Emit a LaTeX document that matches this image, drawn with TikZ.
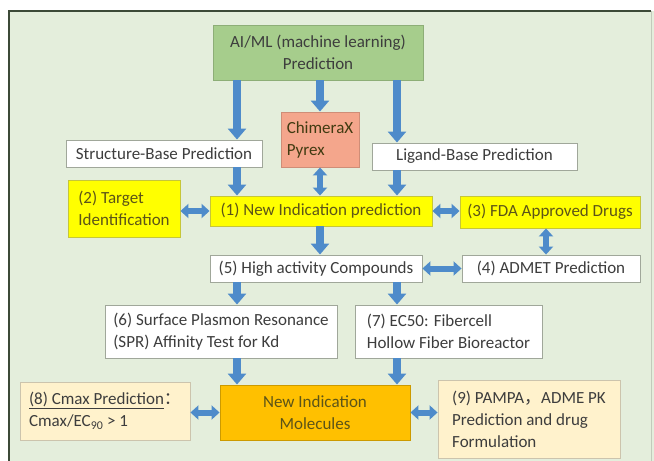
\documentclass[tikz,border=0pt]{standalone}
\usepackage{fontspec}
\setmainfont{Carlito}
\newfontfamily\cjk{Noto Sans CJK SC}
\usepackage{tikz}
\usetikzlibrary{arrows.meta,positioning}
\definecolor{bgcol}{HTML}{E4EEDC}
\definecolor{framecol}{HTML}{3C4A38}
\definecolor{aigreen}{HTML}{A6CD8C}
\definecolor{salmon}{HTML}{F4A68C}
\definecolor{boxyellow}{HTML}{FFFF00}
\definecolor{boxorange}{HTML}{FFC000}
\definecolor{boxcream}{HTML}{FFF2CC}
\definecolor{arrowblue}{HTML}{4E8BCA}
\definecolor{txtgrey}{HTML}{3D3D3D}
\definecolor{txtolive}{HTML}{5C5418}
\tikzset{%
  flow/.style = {draw=arrowblue, line width=8pt, -{Triangle[width=18pt,length=11pt]}},
  flowboth/.style = {draw=arrowblue, line width=6pt,
                     {Triangle[width=14pt,length=8pt]}-{Triangle[width=14pt,length=8pt]}},
            base/.style = {rectangle, draw, line width=0.9pt, inner sep=0pt,
                           text=txtgrey, align=left,
                           font=\fontsize{17}{22}\selectfont},
  box0/.style = {base, fill=white, draw=black!30!bgcol},
  box1/.style = {base, fill=aigreen, draw=aigreen!85!black, align=center},
  box2/.style = {base, fill=salmon, draw=salmon!85!black, text=txtolive!70!black},
  box3/.style = {base, fill=boxyellow, draw=boxyellow!55!gray, text=txtolive},
  box4/.style = {base, fill=boxorange, draw=boxorange!80!black, text=txtolive, align=center},
  box5/.style = {base, fill=boxcream, draw=boxcream!60!gray},
}

\begin{document}
\begin{tikzpicture}[x=1pt, y=1pt, node distance=60pt]

  \useasboundingbox (0,0) rectangle (654,-461);
  \fill[bgcol] (9,-11) rectangle (654,-461);
  \draw[framecol, line width=2pt] (9,-461) -- (9,-11) -- (651,-11);
  \draw[black!15!bgcol, line width=1pt] (651,-11) -- (651,-461);

  \node (onAI)    [box1, minimum width=210pt, minimum height=55pt] at (318,-52.5)
                  {AI/ML (machine learning)\\Prediction};
  \node (onChim)  [box2, below of=onAI,    xshift=2pt,     yshift=-27pt,
                   minimum width=78pt,  minimum height=55pt]  {ChimeraX\\Pyrex};
  \node (onSBP)   [box0, left of=onChim,   xshift=-96pt,   yshift=-14pt,
                   minimum width=196pt, minimum height=27pt]  {Structure-Base Prediction};
  \node (onLBP)   [box0, right of=onChim,  xshift=94.5pt,  yshift=-17pt,
                   minimum width=205pt, minimum height=27pt]  {Ligand-Base Prediction};
  \node (onNIP)   [box3, below of=onChim,  xshift=1pt,     yshift=-11.5pt,
                   minimum width=222pt, minimum height=30pt]  {(1) New Indication prediction};
  \node (onTgt)   [box3, left of=onNIP,    xshift=-137pt,  yshift=2.5pt,
                   minimum width=112pt, minimum height=57pt]  {(2) Target\\Identification};
  \node (onFDA)   [box3, right of=onNIP,   xshift=169pt,   yshift=-1pt,
                   minimum width=180pt, minimum height=32pt]  {(3) FDA Approved Drugs};
  \node (onHAC)   [box0, below of=onNIP,   xshift=-5pt,    yshift=2.5pt,
                   minimum width=212pt, minimum height=27pt]  {(5) High activity Compounds};
  \node (onADMET) [box0, below of=onFDA,   xshift=1pt,     yshift=3.5pt,
                   minimum width=178pt, minimum height=27pt]  {(4) ADMET Prediction};
  \node (onSPR)   [box0, below of=onHAC,   xshift=-95pt,   yshift=-3pt,
                   minimum width=232pt, minimum height=53pt]
                  {(6) Surface Plasmon Resonance\\(SPR) Affinity Test for Kd};
  \node (onEC)    [box0, below of=onHAC,   xshift=132.5pt, yshift=-3pt,
                   minimum width=187pt, minimum height=53pt]
                  {(7) EC50: Fibercell\\Hollow Fiber Bioreactor};
  \node (onNIM)   [box4, below of=onHAC,   xshift=-1pt,    yshift=-84pt,
                   minimum width=190pt, minimum height=55pt]  {New Indication\\Molecules};
  \node (onCmax)  [box5, left of=onNIM,    xshift=-150pt,  yshift=1.5pt,
                   minimum width=170pt, minimum height=58pt]
                  {\underline{(8) Cmax Prediction}{\cjk ：}\\Cmax/EC\textsubscript{90} > 1};
  \node (onPAMPA) [box5, right of=onNIM,   xshift=154pt,   yshift=-6.5pt,
                   minimum width=182pt, minimum height=78pt]
                  {(9) PAMPA{\cjk ，}ADME PK\\Prediction and drug\\Formulation};

  \coordinate (colA) at (237,0);
  \coordinate (colB) at (320,0);
  \coordinate (colC) at (397,0);
  \coordinate (colD) at (546,0);

  \draw[flow] (onAI.south -| colA)  -- (onSBP.north -| colA);
  \draw[flow] (onAI.south -| colB)  -- (onChim.north -| colB);
  \draw[flow] (onAI.south -| colC)  -- (onLBP.north -| colC);
  \draw[flow] (onSBP.south -| colA) -- (onNIP.north -| colA);
  \draw[flowboth] (onChim.south -| colB) -- (onNIP.north -| colB);
  \draw[flow] (onLBP.south -| colC) -- (onNIP.north -| colC);
  \draw[flowboth] (onTgt.east |- onNIP.west) -- (onNIP.west);
  \draw[flowboth] (onNIP.east) -- (onFDA.west |- onNIP.east);
  \draw[flow] (onNIP.south -| colB) -- (onHAC.north -| colB);
  \draw[flowboth] (onFDA.south -| colD) -- (onADMET.north -| colD);
  \draw[flowboth] (onHAC.east) -- (onADMET.west);
  \draw[flow] (onHAC.south -| colA) -- (onSPR.north -| colA);
  \draw[flow] (onHAC.south -| colC) -- (onEC.north -| colC);
  \draw[flow] (onSPR.south -| colA) -- (onNIM.north -| colA);
  \draw[flow] (onEC.south -| colC)  -- (onNIM.north -| colC);
  \draw[flowboth] (onCmax.east |- onNIM.west) -- (onNIM.west);
  \draw[flowboth] (onNIM.east) -- (onPAMPA.west |- onNIM.east);
\end{tikzpicture}
\end{document}
